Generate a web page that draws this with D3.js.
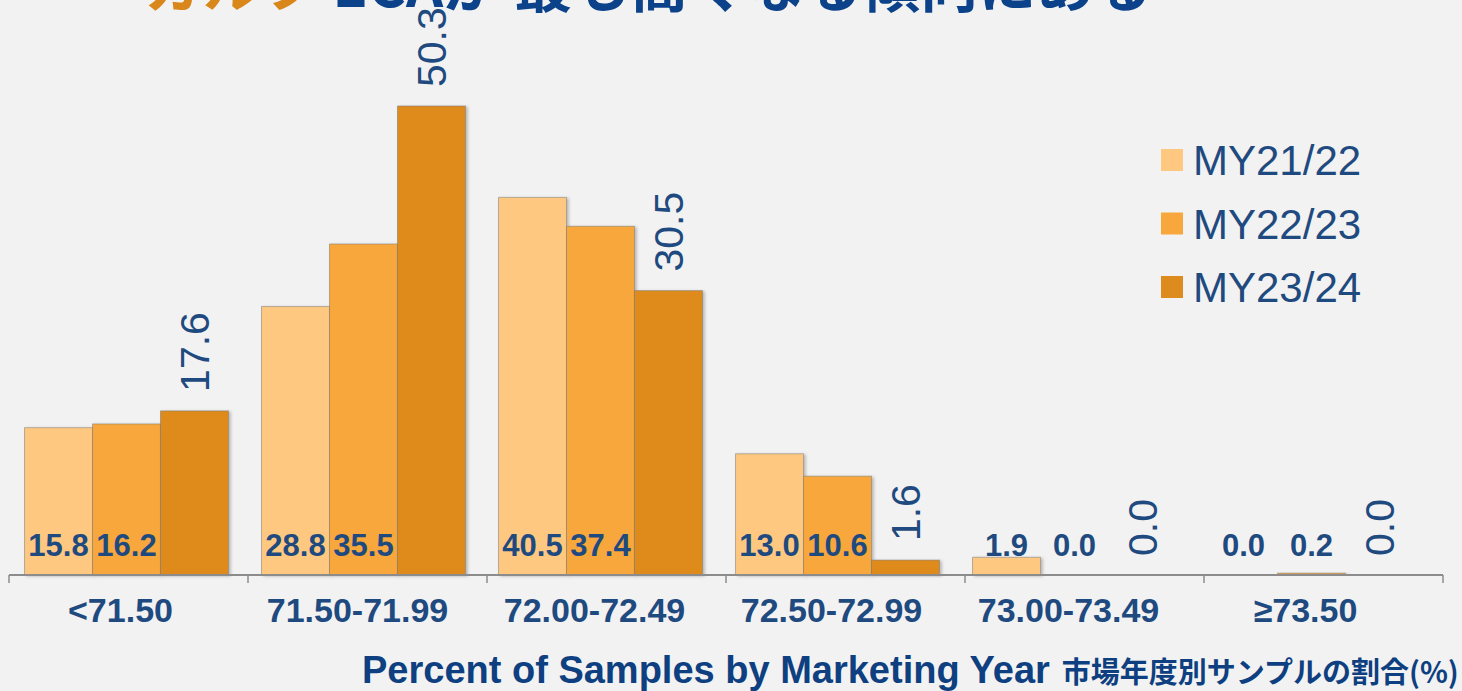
<!DOCTYPE html>
<html>
<head>
<meta charset="utf-8">
<script src="https://cdn.jsdelivr.net/npm/d3@7"></script>
<style>
  body { margin: 0; background: #f2f2f2; overflow: hidden; }
  text { font-family: "Liberation Sans", Arial, sans-serif; }
</style>
</head>
<body>
<div id="chart"></div>
<script>
// data
var categories = ["<71.50", "71.50-71.99", "72.00-72.49", "72.50-72.99", "73.00-73.49", "\u226573.50"];
var seriesNames = ["MY21/22", "MY22/23", "MY23/24"];
var my2122 = [15.8, 28.8, 40.5, 13.0, 1.9, 0.0];
var my2223 = [16.2, 35.5, 37.4, 10.6, 0.0, 0.2];
var my2324 = [17.6, 50.3, 30.5, 1.6, 0.0, 0.0];
var seriesValues = [my2122, my2223, my2324];

var colors = ["#fec880", "#f7a73b", "#de8b1e"];
var textBlue = "#1f4a80";

var W = 1462, H = 691;
var baseY = 575;

var svg = d3.select("#chart").append("svg")
    .attr("width", W).attr("height", H);

svg.append("rect").attr("width", W).attr("height", H).attr("fill", "#f2f2f2");

// soft shadow under bars
var defs = svg.append("defs");
var f = defs.append("filter").attr("id", "shadow")
    .attr("x", "-10%").attr("y", "-10%").attr("width", "130%").attr("height", "130%");
f.append("feDropShadow").attr("dx", 2).attr("dy", 1).attr("stdDeviation", 1.5)
    .attr("flood-color", "#000").attr("flood-opacity", 0.25);

// cut-off title at top
var title = svg.append("text")
    .attr("x", 145).attr("y", 7)
    .style("font-family", "'Noto Sans CJK JP', sans-serif")
    .style("font-size", "58px").style("font-weight", "bold");
title.append("tspan").attr("fill", "#d9861a").text("ガルフ");
title.append("tspan").attr("fill", "#0b428a").text(" ECAが 最も高くなる傾向にある");

// scales: bars sit on a slightly tighter grid than the axis ticks
var x0 = d3.scaleBand().domain(categories).range([8, 8 + 237 * 6]).padding(0);
var xAxis = d3.scaleBand().domain(categories).range([9, 1443]).padding(0);
var x1 = d3.scaleBand().domain(seriesNames).range([0, x0.bandwidth()])
    .paddingInner(0).paddingOuter(0.243);
var y = d3.scaleLinear().domain([0, 55]).range([baseY, baseY - 55 * 9.324]);

// rows for drawing
var rows = [];
categories.forEach(function(c, i) {
  seriesNames.forEach(function(s, j) {
    rows.push({cat: c, series: s, idx: j, value: seriesValues[j][i]});
  });
});

// bars
svg.append("g").selectAll("rect")
  .data(rows)
  .enter()
  .append("rect")
    .attr("x", function(d) { return x0(d.cat) + x1(d.series); })
    .attr("y", function(d) { return y(d.value); })
    .attr("width", x1.bandwidth())
    .attr("height", function(d) { return baseY - y(d.value); })
    .attr("fill", function(d) { return colors[d.idx]; })
    .attr("stroke", "rgba(120,120,120,0.5)")
    .attr("stroke-width", 1)
    .attr("filter", function(d) { return d.value > 0 ? "url(#shadow)" : null; });

// axis
var axis = svg.append("g").attr("transform", "translate(0," + baseY + ")");
axis.append("line").attr("x1", 9).attr("x2", 1443).attr("y1", 0).attr("y2", 0)
    .attr("stroke", "#8c8c8c").attr("stroke-width", 2);
var tickPos = categories.map(function(c) { return xAxis(c); }).concat([xAxis.range()[1]]);
axis.selectAll("line.tick")
  .data(tickPos)
  .enter()
  .append("line")
    .attr("class", "tick")
    .attr("x1", function(d) { return d; }).attr("x2", function(d) { return d; })
    .attr("y1", 0).attr("y2", 8)
    .attr("stroke", "#8c8c8c").attr("stroke-width", 1.5);

// category labels
svg.append("g").selectAll("text")
  .data(categories)
  .enter()
  .append("text")
    .attr("x", function(d) { return x0(d) + x0.bandwidth() / 2 - 6; })
    .attr("y", 622)
    .attr("text-anchor", "middle")
    .attr("fill", textBlue)
    .style("font-size", "34px").style("font-weight", "bold")
    .text(function(d) { return d; });

// labels inside bars (first two series)
svg.append("g").selectAll("text")
  .data(rows.filter(function(d) { return d.idx < 2; }))
  .enter()
  .append("text")
    .attr("x", function(d) { return x0(d.cat) + x1(d.series) + x1.bandwidth() / 2; })
    .attr("y", 556)
    .attr("text-anchor", "middle")
    .attr("fill", textBlue)
    .style("font-size", "31px").style("font-weight", "bold")
    .text(function(d) { return d.value.toFixed(1); });

// rotated labels above third series
svg.append("g").selectAll("text")
  .data(rows.filter(function(d) { return d.idx === 2; }))
  .enter()
  .append("text")
    .attr("transform", function(d) {
      var cx = x0(d.cat) + x1(d.series) + x1.bandwidth() / 2;
      return "translate(" + cx + "," + (y(d.value) - 19) + ") rotate(-90)";
    })
    .attr("dy", "0.36em")
    .attr("fill", textBlue)
    .style("font-size", "41px")
    .text(function(d) { return d.value.toFixed(1); });

// legend
var legend = svg.append("g").selectAll("g")
  .data(seriesNames)
  .enter()
  .append("g")
    .attr("transform", function(d, i) { return "translate(1161," + (160 + i * 63.5) + ")"; });
legend.append("rect")
    .attr("x", 0).attr("y", -11).attr("width", 22).attr("height", 22)
    .attr("fill", function(d, i) { return colors[i]; });
legend.append("text")
    .attr("x", 32).attr("y", 0).attr("dy", "0.36em")
    .attr("fill", textBlue)
    .style("font-size", "42px")
    .text(function(d) { return d; });

// axis title
var at = svg.append("text").attr("x", 362).attr("y", 683).attr("fill", "#0e3f80");
at.append("tspan").style("font-size", "38px").style("font-weight", "bold")
    .text("Percent of Samples by Marketing Year");
at.append("tspan").attr("dx", 12)
    .style("font-family", "'Noto Sans CJK JP', sans-serif")
    .style("font-size", "29px").style("font-weight", "bold")
    .text("市場年度別サンプルの割合(%)");
</script>
</body>
</html>
